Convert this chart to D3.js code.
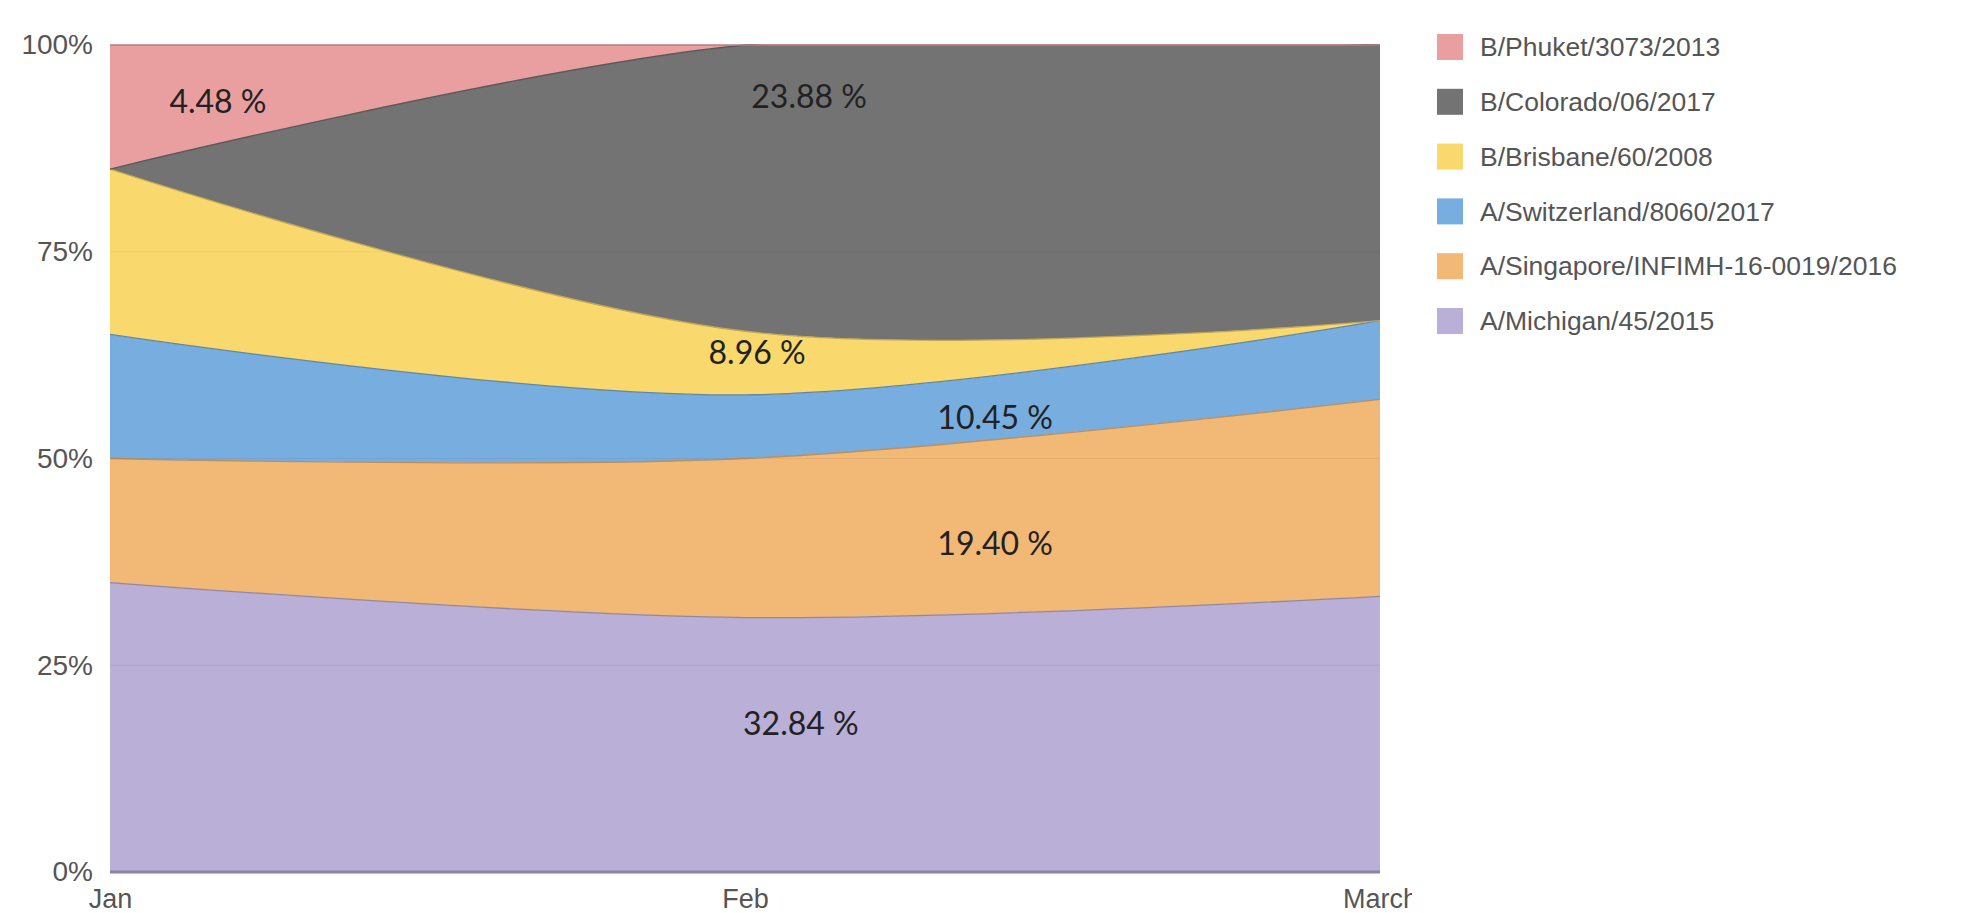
<!DOCTYPE html>
<html>
<head>
<meta charset="utf-8">
<script src="https://cdn.jsdelivr.net/npm/d3@7"></script>
<style>
  body { margin: 0; background: #fff; }
  svg { display: block; }
  .tick text { fill: #555; }
</style>
</head>
<body>
<div id="chart"></div>
<script>
// months and series (bottom of the stack first)
var months = ["Jan", "Feb", "March"];
var strains = ["A/Michigan/45/2015", "A/Singapore/INFIMH-16-0019/2016", "A/Switzerland/8060/2017",
               "B/Brisbane/60/2008", "B/Colorado/06/2017", "B/Phuket/3073/2013"];

// counts per month
var michigan    = [7, 8, 7];
var singapore   = [3, 5, 5];
var switzerland = [3, 2, 2];
var brisbane    = [4, 2, 0];
var colorado    = [0, 9, 7];
var phuket      = [3, 0, 0];

var yTicks = [0, 0.25, 0.5, 0.75, 1];

var colors = ["#b9afd7", "#f2b876", "#78addf", "#f9d86d", "#737373", "#e99fa0"];
// where each share label sits: [month index, percent]
var labelAt = [[1.088, 17.9], [1.394, 39.7], [1.394, 54.9], [1.019, 62.8], [1.101, 93.8], [0.170, 93.2]];

var counts = [michigan, singapore, switzerland, brisbane, colorado, phuket];

var W = 1983, H = 913;
var margin = {top: 45, right: 603, bottom: 41, left: 110},
    width = W - margin.left - margin.right,
    height = H - margin.top - margin.bottom;

var svg = d3.select("#chart").append("svg")
    .attr("width", W)
    .attr("height", H);

var defs = svg.append("defs");
defs.append("clipPath").attr("id", "plotclip")
  .append("rect").attr("x", 0).attr("y", -1).attr("width", width).attr("height", height + 1);
defs.append("clipPath").attr("id", "xclip")
  .append("rect").attr("x", -margin.left).attr("y", 0).attr("width", margin.left + 1302).attr("height", 60);

var g = svg.append("g").attr("transform", "translate(" + margin.left + "," + margin.top + ")");

var rows = months.map(function (m, i) {
    var r = {month: m};
    strains.forEach(function (s, k) { r[s] = counts[k][i]; });
    return r;
});

var stack = d3.stack().keys(strains).offset(d3.stackOffsetExpand);
var layers = stack(rows);

var x = d3.scaleLinear().domain([0, months.length - 1]).range([0, width]);
var y = d3.scaleLinear().domain([0, 1]).range([height, 0]);

var curve = d3.curveCardinal.tension(0);

var area = d3.area()
    .x(function (d, i) { return x(i); })
    .y0(function (d) { return y(d[0]); })
    .y1(function (d) { return y(d[1]); })
    .curve(curve);

var topLine = d3.line()
    .x(function (d, i) { return x(i); })
    .y(function (d) { return y(d[1]); })
    .curve(curve);

var plot = g.append("g").attr("clip-path", "url(#plotclip)");

plot.selectAll("path.area").data(layers).enter()
    .append("path")
    .attr("class", "area")
    .attr("d", area)
    .attr("fill", function (d, i) { return colors[i]; });

plot.selectAll("path.edge").data(layers).enter()
    .append("path")
    .attr("class", "edge")
    .attr("d", topLine)
    .attr("fill", "none")
    .attr("stroke", function (d, i) { return d3.color(colors[i]).darker(0.7); })
    .attr("stroke-width", 1.3);

// faint grid lines over the areas
plot.selectAll("line.grid").data(yTicks.slice(1, 4)).enter()
    .append("line")
    .attr("class", "grid")
    .attr("x1", 0).attr("x2", width)
    .attr("y1", function (d) { return y(d); })
    .attr("y2", function (d) { return y(d); })
    .attr("stroke", "rgba(0,0,0,0.05)");

// base line
g.append("line")
    .attr("x1", 0).attr("x2", width)
    .attr("y1", height).attr("y2", height)
    .attr("stroke", "#8b84a5")
    .attr("stroke-width", 3);

// share labels
var grand = d3.sum(counts, function (c) { return d3.sum(c); });
g.selectAll("text.share").data(counts).enter()
    .append("text")
    .attr("class", "share")
    .attr("x", function (d, i) { return x(labelAt[i][0]); })
    .attr("y", function (d, i) { return y(labelAt[i][1] / 100); })
    .attr("dy", "0.36em")
    .attr("text-anchor", "middle")
    .style("font-family", "Lato, 'Open Sans', sans-serif")
    .style("font-size", "32px")
    .style("fill", "#222")
    .text(function (d) { return (d3.sum(d) / grand * 100).toFixed(2) + " %"; });

// axes
var yAxis = g.append("g")
    .call(d3.axisLeft(y).tickValues(yTicks).tickFormat(d3.format(".0%")).tickSize(0).tickPadding(17));
yAxis.select(".domain").remove();
yAxis.selectAll("text")
    .style("font-family", "'Liberation Sans', Arial, sans-serif")
    .style("font-size", "28px");

var xAxis = g.append("g")
    .attr("transform", "translate(0," + height + ")")
    .attr("clip-path", "url(#xclip)")
    .call(d3.axisBottom(x).tickValues(d3.range(months.length))
          .tickFormat(function (i) { return months[i]; }).tickSize(0).tickPadding(17));
xAxis.select(".domain").remove();
xAxis.selectAll("text")
    .style("font-family", "'Liberation Sans', Arial, sans-serif")
    .style("font-size", "27px");

// legend, top of the stack first
var legend = svg.append("g").attr("transform", "translate(1437,47)");
var items = legend.selectAll("g").data(strains.slice().reverse()).enter()
    .append("g")
    .attr("transform", function (d, i) { return "translate(0," + (i * 54.8) + ")"; });
items.append("rect")
    .attr("x", 0).attr("y", -13)
    .attr("width", 26).attr("height", 26)
    .attr("fill", function (d, i) { return colors[colors.length - 1 - i]; });
items.append("text")
    .attr("x", 43)
    .attr("dy", "0.35em")
    .style("font-family", "'Liberation Sans', Arial, sans-serif")
    .style("font-size", "26.5px")
    .style("fill", "#555")
    .text(function (d) { return d; });
</script>
</body>
</html>
